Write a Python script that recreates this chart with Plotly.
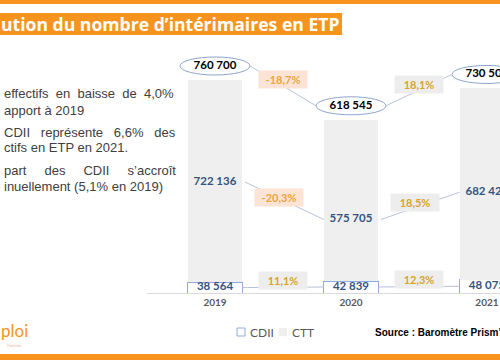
import plotly.graph_objects as go

# ---------------- data ----------------
years = ["2019", "2020", "2021"]
cdii = [38564, 42839, 48075]
ctt = [722136, 575705, 682425]
totals = [760700, 618545, 730500]
cdii_labels = ["38 564", "42 839", "48 075"]
ctt_labels = ["722 136", "575 705", "682 425"]
total_labels = ["760 700", "618 545", "730 500"]
total_growth = ["-18,7%", "18,1%"]
ctt_growth = ["-20,3%", "18,5%"]
cdii_growth = ["11,1%", "12,3%"]
title_text = "ution du nombre d’intérimaires en ETP"
bullet_lines = [
    "effectifs\u00a0 en\u00a0 baisse\u00a0 de\u00a0 4,0%",
    "apport à 2019",
    "CDII\u00a0\u00a0 représente\u00a0\u00a0 6,6%\u00a0\u00a0 des",
    "ctifs en ETP en 2021.",
    "part\u00a0\u00a0\u00a0\u00a0 des\u00a0\u00a0\u00a0\u00a0 CDII\u00a0\u00a0\u00a0\u00a0 s’accroît",
    "inuellement (5,1% en 2019)",
]
source_text = "Source : Baromètre Prism’emploi"

# ---------------- layout constants ----------------
W, H = 500, 360
L, R, T, B = 147, 0, 50, 67
YMAX = 867850
Y2_RANGE = [289000, 1237000]
PAD = 50000          # vertical offset of total bubbles above bar tops
ORANGE = "#f7941d"
NUM_FONT = "Lato"
BLUE_TXT = "#34557f"
NEG_TXT, NEG_BG = "#eda43d", "#fbe4d6"
POS_TXT, POS_BG = "#d8a52a", "#ededed"
LINK = "#b7c3da"

pw, ph = W - L - R, H - T - B


def px_x(px):
    return (px - L) / pw


def px_y(py):
    return (H - B - py) / ph


x = list(range(len(years)))
fig = go.Figure()

# stacked bars
fig.add_trace(go.Bar(x=x, y=cdii, width=0.4, name="CDII",
                     marker=dict(color="white", line=dict(color="#8faadc", width=1))))
fig.add_trace(go.Bar(x=x, y=ctt, width=0.4, name="CTT",
                     marker=dict(color="#efefef", line=dict(width=0))))

# connectors
hw = 35 / (pw / 2.596)
tx, ty = [], []
for i in range(len(x) - 1):
    tx += [x[i] + hw, x[i + 1] - hw, None]
    ty += [totals[i] + PAD, totals[i + 1] + PAD, None]
fig.add_trace(go.Scatter(x=tx, y=ty, mode="lines", line=dict(color=LINK, width=1), hoverinfo="skip"))

cx, cy = [], []
for i in range(len(x) - 1):
    cx += [x[i] + 0.22, x[i + 1] - 0.2, None]
    cy += [ctt[i], ctt[i + 1], None]
fig.add_trace(go.Scatter(x=cx, y=cy, yaxis="y2", mode="lines", line=dict(color=LINK, width=1), hoverinfo="skip"))

dx, dy = [], []
for i in range(len(x) - 1):
    dx += [x[i] + 0.2, x[i + 1] - 0.2, None]
    dy += [cdii[i] / 2, cdii[i + 1] / 2, None]
fig.add_trace(go.Scatter(x=dx, y=dy, mode="lines", line=dict(color=LINK, width=1), hoverinfo="skip"))

# value labels
fig.add_trace(go.Scatter(x=x, y=[t + PAD for t in totals], mode="text", text=total_labels,
                         textfont=dict(family=NUM_FONT, size=11.5, color="black", weight="bold"),
                         cliponaxis=False, hoverinfo="skip"))
fig.add_trace(go.Scatter(x=x, y=ctt, yaxis="y2", mode="text", text=ctt_labels,
                         textfont=dict(family=NUM_FONT, size=11.5, color=BLUE_TXT, weight="bold"),
                         cliponaxis=False, hoverinfo="skip"))
fig.add_trace(go.Scatter(x=x, y=[c / 2 for c in cdii], mode="text", text=cdii_labels,
                         textfont=dict(family=NUM_FONT, size=11.5, color=BLUE_TXT, weight="bold"),
                         cliponaxis=False, hoverinfo="skip"))

shapes = []
for i in x:
    shapes.append(dict(type="circle", xref="x", yref="y", xsizemode="pixel", ysizemode="pixel",
                       xanchor=i, yanchor=totals[i], x0=-35, x1=35, y0=5, y1=23,
                       line=dict(color="#8ea4cf", width=1), fillcolor="white", layer="below"))

annotations = []


def pct(xv, yv, text, yref, yshift, xshift=0):
    neg = text.startswith("-")
    annotations.append(dict(x=xv, y=yv, xref="x", yref=yref, text=text, showarrow=False,
                            yshift=yshift, xshift=xshift, width=44, height=13, borderpad=2,
                            bgcolor=NEG_BG if neg else POS_BG,
                            font=dict(family=NUM_FONT, size=11, weight="bold",
                                      color=NEG_TXT if neg else POS_TXT)))


for i in range(len(x) - 1):
    pct(x[i] + 0.5, (totals[i] + totals[i + 1]) / 2 + PAD, total_growth[i], "y", 6)
    pct(x[i] + 0.5, (ctt[i] + ctt[i + 1]) / 2, ctt_growth[i], "y2", 3, -4)
    pct(x[i] + 0.5, (cdii[i] + cdii[i + 1]) / 2 / 2, cdii_growth[i], "y", 7)

# page furniture
shapes.append(dict(type="rect", xref="paper", yref="paper", x0=px_x(0), x1=px_x(W),
                   y0=px_y(4), y1=px_y(0), fillcolor=ORANGE, line_width=0, layer="above"))
shapes.append(dict(type="rect", xref="paper", yref="paper", x0=px_x(0), x1=px_x(342),
                   y0=px_y(35), y1=px_y(13), fillcolor=ORANGE, line_width=0, layer="above"))
shapes.append(dict(type="rect", xref="paper", yref="paper", x0=px_x(0), x1=px_x(W),
                   y0=px_y(H), y1=px_y(354), fillcolor=ORANGE, line_width=0, layer="above"))
# legend squares
shapes.append(dict(type="rect", xref="paper", yref="paper", x0=px_x(237), x1=px_x(245),
                   y0=px_y(336), y1=px_y(328), fillcolor="white",
                   line=dict(color="#8faadc", width=1)))
shapes.append(dict(type="rect", xref="paper", yref="paper", x0=px_x(279), x1=px_x(287),
                   y0=px_y(336), y1=px_y(328), fillcolor="#efefef", line_width=0))

annotations.append(dict(xref="paper", yref="paper", x=px_x(-1), y=px_y(24), xanchor="left",
                        yanchor="middle", text=title_text, showarrow=False,
                        font=dict(family="Open Sans", size=17.6, color="white", weight="bold")))
for yy, line in zip([93, 110, 132, 147, 170, 186], bullet_lines):
    annotations.append(dict(xref="paper", yref="paper", x=px_x(2), y=px_y(yy), xanchor="left",
                            yanchor="middle", text=line, showarrow=False,
                            font=dict(family="Liberation Sans", size=13, color="#404040")))
annotations.append(dict(xref="paper", yref="paper", x=px_x(248), y=px_y(332), xanchor="left",
                        yanchor="middle", text="CDII", showarrow=False,
                        font=dict(family="Lato", size=12, color="#595959")))
annotations.append(dict(xref="paper", yref="paper", x=px_x(290), y=px_y(332), xanchor="left",
                        yanchor="middle", text="CTT", showarrow=False,
                        font=dict(family="Lato", size=12, color="#595959")))
annotations.append(dict(xref="paper", yref="paper", x=px_x(373), y=px_y(332), xanchor="left",
                        yanchor="middle", text=source_text, showarrow=False,
                        font=dict(family="Liberation Sans", size=10, color="black", weight="bold")))
annotations.append(dict(xref="paper", yref="paper", x=px_x(-1), y=px_y(330), xanchor="left",
                        yanchor="middle", text="ploi", showarrow=False,
                        font=dict(family="Lato", size=17, color=ORANGE)))
annotations.append(dict(xref="paper", yref="paper", x=px_x(5), y=px_y(345), xanchor="left",
                        yanchor="middle", text="l’intérim", showarrow=False,
                        font=dict(family="Lato", size=4, color="#f4b183")))

fig.update_layout(
    width=W, height=H, autosize=False,
    margin=dict(l=L, r=R, t=T, b=B, pad=0),
    barmode="stack", showlegend=False,
    plot_bgcolor="white", paper_bgcolor="white",
    xaxis=dict(range=[-0.5, 2.096], tickvals=x, ticktext=years, showgrid=False, zeroline=False,
               showline=True, linecolor="#d9d9d9", linewidth=1, ticks="",
               tickfont=dict(family="Lato", size=10, color="#595959", weight="bold")),
    yaxis=dict(range=[0, YMAX], visible=False),
    yaxis2=dict(range=Y2_RANGE, overlaying="y", visible=False),
    shapes=shapes, annotations=annotations,
)

fig.write_html("out.html", config={"displayModeBar": False},
               post_script="document.body.style.margin='0';document.body.style.overflow='hidden';")
